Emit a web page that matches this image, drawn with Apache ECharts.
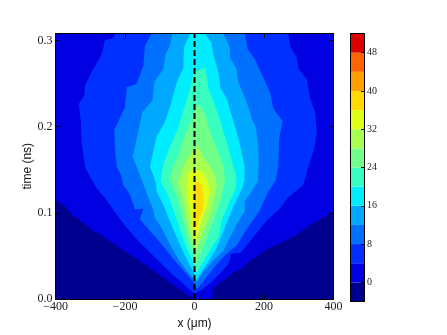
<!DOCTYPE html>
<html>
<head>
<meta charset="utf-8">
<style>
html, body { margin: 0; padding: 0; background: #fff; }
#chart { width: 447px; height: 335px; }
</style>
<script src="https://cdn.jsdelivr.net/npm/echarts@6/dist/echarts.min.js"></script>
</head>
<body>
<div id="chart"></div>
<script>
// axis limits and ticks
var timeTicks = [0, 0.1, 0.2, 0.3];
var timeMax = 0.308;
var barTicks = [0, 8, 16, 24, 32, 40, 48];
var barLevels = [-4, 0, 4, 8, 12, 16, 20, 24, 28, 32, 36, 40, 44, 48, 52];
var barColors = ['#00008f', '#0000e3', '#0030ff', '#0070ff', '#00a8ff', '#00ecff', '#38ffc0', '#70ff88', '#a8ff50', '#e0ff18', '#ffda00', '#ffa000', '#ff6400', '#dc0000'];

// contour outlines, [x um, time ns]
var level0 = [[-400, 0.308], [-400, 0.1154], [-373, 0.1077], [-354, 0.098], [-320, 0.0886], [-292, 0.079], [-272, 0.0752], [-210, 0.058], [-152, 0.0426], [-85, 0.0234], [-37, 0.01], [-3, 0], [51, 0], [54, 0.0119], [69, 0.0177], [97, 0.0253], [112, 0.031], [136, 0.035], [160, 0.0445], [189, 0.052], [208, 0.058], [241, 0.0637], [289, 0.0732], [337, 0.0866], [400, 0.102], [400, 0.308]];
var level4 = [[-227, 0.308], [-234, 0.303], [-258, 0.3], [-267, 0.284], [-296, 0.263], [-315, 0.2476], [-317, 0.236], [-333, 0.2265], [-327, 0.2055], [-325, 0.1825], [-320, 0.167], [-315, 0.1537], [-301, 0.1422], [-282, 0.1288], [-258, 0.1173], [-224, 0.0981], [-195, 0.0828], [-162, 0.0675], [-114, 0.0483], [-66, 0.0292], [-32, 0.0177], [0, 0.0062], [25, 0.012], [55, 0.022], [85, 0.0345], [99, 0.042], [106, 0.0525], [133, 0.0536], [171, 0.0728], [210, 0.092], [243, 0.1034], [267, 0.117], [313, 0.1326], [328, 0.1537], [345, 0.175], [352, 0.194], [347, 0.217], [333, 0.2323], [323, 0.2553], [299, 0.2668], [294, 0.2802], [275, 0.2936], [270, 0.308]];
var level8 = [[-123, 0.308], [-143, 0.2936], [-147, 0.2706], [-167, 0.2495], [-195, 0.2457], [-200, 0.2227], [-231, 0.1959], [-229, 0.1748], [-224, 0.1537], [-210, 0.1422], [-205, 0.1326], [-186, 0.1211], [-171, 0.1039], [-147, 0.105], [-157, 0.0924], [-128, 0.079], [-95, 0.0637], [-61, 0.0464], [-23, 0.0292], [-3, 0.0196], [8, 0.0115], [30, 0.023], [55, 0.036], [85, 0.05], [123, 0.063], [152, 0.0824], [186, 0.1015], [210, 0.1226], [234, 0.138], [241, 0.1537], [244, 0.1863], [253, 0.2066], [227, 0.2208], [217, 0.24], [193, 0.261], [174, 0.2782], [153, 0.2897], [145, 0.308]];
var level12 = [[-64, 0.308], [-71, 0.2936], [-83, 0.284], [-90, 0.2668], [-116, 0.2514], [-121, 0.2304], [-150, 0.217], [-164, 0.19], [-178, 0.1652], [-167, 0.1537], [-152, 0.1384], [-138, 0.1231], [-119, 0.1039], [-114, 0.0943], [-95, 0.0828], [-71, 0.0637], [-47, 0.0464], [-23, 0.033], [-3, 0.0234], [6, 0.0196], [25, 0.031], [49, 0.0426], [83, 0.056], [102, 0.071], [121, 0.0866], [145, 0.102], [145, 0.1135], [165, 0.125], [182, 0.1365], [184, 0.1537], [184, 0.1748], [177, 0.1978], [165, 0.2093], [150, 0.2284], [126, 0.2514], [121, 0.2668], [102, 0.2802], [102, 0.2917], [83, 0.308]];
var level16 = [[-13, 0.308], [-29, 0.2936], [-32, 0.278], [-32, 0.2687], [-51, 0.2514], [-68, 0.2265], [-85, 0.2055], [-109, 0.1882], [-117, 0.1748], [-128, 0.1537], [-111, 0.1345], [-109, 0.125], [-90, 0.1096], [-71, 0.0905], [-51, 0.0713], [-32, 0.054], [-13, 0.0388], [-2, 0.031], [4, 0.0215], [16, 0.029], [45, 0.0464], [64, 0.0598], [78, 0.0733], [97, 0.0924], [117, 0.1116], [136, 0.127], [144, 0.138], [144, 0.1537], [131, 0.1786], [121, 0.194], [107, 0.2131], [93, 0.2323], [74, 0.2457], [69, 0.263], [54, 0.284], [49, 0.2974], [30, 0.308]];
var level20 = [[1, 0.2637], [-4, 0.259], [-18, 0.236], [-32, 0.219], [-47, 0.198], [-71, 0.1767], [-90, 0.1556], [-97, 0.1365], [-75, 0.1192], [-61, 0.1039], [-42, 0.081], [-23, 0.0598], [-3, 0.0426], [6, 0.031], [25, 0.0426], [49, 0.0598], [69, 0.0713], [78, 0.0905], [97, 0.1096], [117, 0.127], [121, 0.1422], [112, 0.1537], [97, 0.1767], [83, 0.194], [73, 0.209], [54, 0.23], [40, 0.2438], [35, 0.259], [30, 0.2687]];
var level24 = [[11, 0.2261], [-3, 0.2146], [-13, 0.2031], [-32, 0.1859], [-42, 0.1705], [-61, 0.1537], [-71, 0.14], [-51, 0.1192], [-32, 0.0905], [-18, 0.0694], [-2, 0.052], [4, 0.039], [11, 0.0464], [28, 0.062], [45, 0.081], [64, 0.1], [78, 0.119], [88, 0.138], [83, 0.1537], [64, 0.175], [45, 0.194], [30, 0.215]];
var level28 = [[8, 0.178], [-13, 0.1667], [-32, 0.1536], [-47, 0.1345], [-32, 0.1157], [-23, 0.0927], [-10, 0.0732], [-2, 0.0617], [6, 0.058], [21, 0.0733], [40, 0.0924], [54, 0.112], [64, 0.131], [61, 0.142], [45, 0.154], [30, 0.1614]];
var level32 = [[-8, 0.149], [13, 0.15], [27, 0.146], [40, 0.134], [43, 0.125], [35, 0.107], [21, 0.092], [11, 0.0785], [1, 0.065], [-5, 0.0785], [-11, 0.098], [-21, 0.117], [-21, 0.132], [-20, 0.144]];
var level36 = [[6, 0.136], [21, 0.134], [27, 0.117], [24, 0.1015], [11, 0.09], [6, 0.082], [1, 0.086], [0, 0.1015], [-3, 0.117], [1, 0.134]];
var contours = [level0, level4, level8, level12, level16, level20, level24, level28, level32, level36];
var contourColors = barColors.slice(1, 11);

var chart = echarts.init(document.getElementById('chart'), null, { renderer: 'canvas' });

var serif = 'Liberation Serif';
var sans = 'Liberation Sans';

function minusLabel(v) {
    return String(v).replace('-', '\u2212');
}

function renderContour(params, api) {
    var i = api.value(0);
    var pts = contours[i].map(function (p) { return api.coord(p); });
    return {
        type: 'polygon',
        shape: { points: pts },
        style: { fill: contourColors[i], stroke: null }
    };
}

function renderBar(params, api) {
    var i = api.value(0);
    var a = api.coord([0, barLevels[i]]);
    var b = api.coord([1, barLevels[i + 1]]);
    return {
        type: 'rect',
        shape: { x: a[0], y: b[1], width: b[0] - a[0], height: a[1] - b[1] },
        style: { fill: barColors[i] }
    };
}

var tickStyle = { inside: true, length: 4, lineStyle: { color: '#000', width: 1 } };
var lineStyle = { show: true, onZero: false, lineStyle: { color: '#000', width: 1 } };

var option = {
    animation: false,
    backgroundColor: '#fff',
    grid: [
        { left: 55.5, top: 33.5, width: 278, height: 268, containLabel: false },
        { left: 350.5, top: 33.5, width: 13.5, height: 268, containLabel: false }
    ],
    xAxis: [
        {
            type: 'value', gridIndex: 0, min: -400, max: 400, interval: 200, position: 'bottom', z: 10,
            name: 'x (μm)', nameLocation: 'middle', nameGap: 19, nameMoveOverlap: false,
            nameTextStyle: { fontFamily: sans, fontSize: 12, color: '#111' },
            axisLine: lineStyle, axisTick: tickStyle, splitLine: { show: false },
            axisLabel: {
                fontFamily: serif, fontSize: 12, color: '#222', margin: 2,
                hideOverlap: false, formatter: minusLabel
            }
        },
        {
            type: 'value', gridIndex: 0, min: -400, max: 400, interval: 200, position: 'top', z: 10,
            axisLine: lineStyle, axisTick: tickStyle, axisLabel: { show: false }, splitLine: { show: false }
        },
        {
            type: 'value', gridIndex: 1, min: 0, max: 1, position: 'bottom', z: 10,
            axisLine: lineStyle, axisTick: { show: false }, axisLabel: { show: false }, splitLine: { show: false }
        },
        {
            type: 'value', gridIndex: 1, min: 0, max: 1, position: 'top', z: 10,
            axisLine: lineStyle, axisTick: { show: false }, axisLabel: { show: false }, splitLine: { show: false }
        }
    ],
    yAxis: [
        {
            type: 'value', gridIndex: 0, min: 0, max: timeMax, position: 'left', z: 10,
            name: 'time (ns)', nameLocation: 'middle', nameGap: 22, nameRotate: 90, nameMoveOverlap: false,
            nameTextStyle: { fontFamily: sans, fontSize: 12, color: '#111' },
            axisLine: lineStyle,
            axisTick: Object.assign({ customValues: timeTicks }, tickStyle),
            splitLine: { show: false },
            axisLabel: {
                customValues: timeTicks, fontFamily: serif, fontSize: 12, color: '#222', margin: 3,
                hideOverlap: false, verticalAlignMinLabel: 'middle', padding: [2, 0, 0, 0],
                formatter: function (v) { return v.toFixed(1); }
            }
        },
        {
            type: 'value', gridIndex: 0, min: 0, max: timeMax, position: 'right', z: 10,
            axisLine: lineStyle,
            axisTick: Object.assign({ customValues: timeTicks }, tickStyle),
            axisLabel: { show: false }, splitLine: { show: false }
        },
        {
            type: 'value', gridIndex: 1, min: -4, max: 52, position: 'right', z: 10,
            axisLine: lineStyle,
            axisTick: { customValues: barTicks, inside: true, length: 3, lineStyle: { color: '#000', width: 1 } },
            splitLine: { show: false },
            axisLabel: {
                customValues: barTicks, fontFamily: serif, fontSize: 10, color: '#222', margin: 3,
                hideOverlap: false, padding: [2, 0, 0, 0]
            }
        },
        {
            type: 'value', gridIndex: 1, min: -4, max: 52, position: 'left', z: 10,
            axisLine: lineStyle, axisTick: { show: false }, axisLabel: { show: false }, splitLine: { show: false }
        }
    ],
    series: [
        {
            // navy floor of the plot, same lowest band as the colorbar
            type: 'custom', xAxisIndex: 0, yAxisIndex: 0, silent: true, z: 1,
            data: [[0]],
            renderItem: function (params, api) {
                var a = api.coord([-400, 0]);
                var b = api.coord([400, timeMax]);
                return {
                    type: 'rect',
                    shape: { x: a[0], y: b[1], width: b[0] - a[0], height: a[1] - b[1] },
                    style: { fill: barColors[0] }
                };
            },
            encode: { x: [], y: [] }
        },
        {
            type: 'custom', xAxisIndex: 0, yAxisIndex: 0, silent: true, z: 2,
            data: contours.map(function (c, i) { return [i]; }),
            renderItem: renderContour,
            encode: { x: [], y: [] }
        },
        {
            type: 'line', xAxisIndex: 0, yAxisIndex: 0, silent: true, z: 3,
            data: [[0, 0], [0, timeMax]],
            symbol: 'none',
            lineStyle: { color: '#000', width: 2, type: [6, 3] }
        },
        {
            type: 'custom', xAxisIndex: 2, yAxisIndex: 2, silent: true, z: 2,
            data: barColors.map(function (c, i) { return [i]; }),
            renderItem: renderBar,
            encode: { x: [], y: [] }
        }
    ]
};

chart.setOption(option);
</script>
</body>
</html>
